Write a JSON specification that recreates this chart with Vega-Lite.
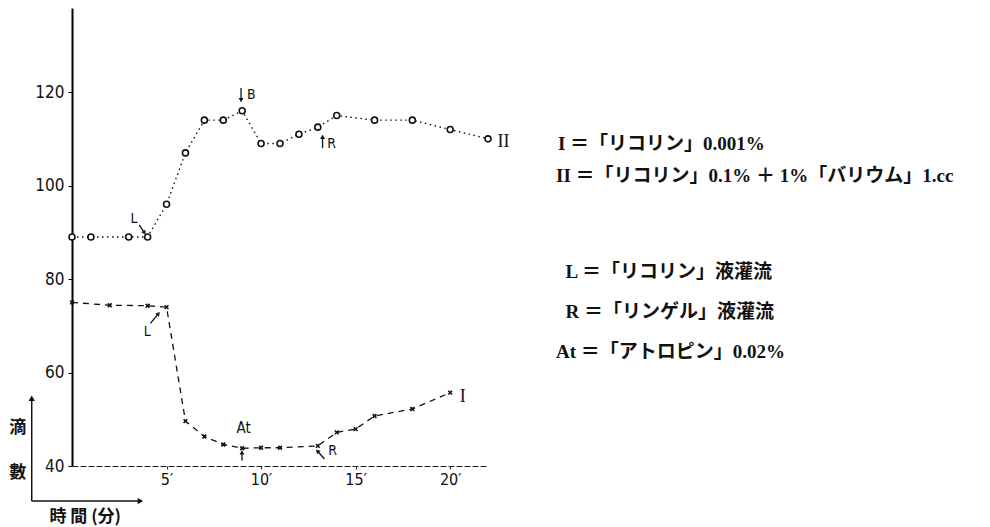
{
  "$schema": "https://vega.github.io/schema/vega-lite/v6.json",
  "autosize": {"type": "none"},
  "width": 416,
  "height": 458,
  "padding": {"left": 72, "top": 8, "right": 502, "bottom": 61},
  "background": "white",
  "config": {"view": {"stroke": null}},
  "datasets": {
    "series": [
      {"t": 0, "drops": 89, "s": "II"},
      {"t": 1, "drops": 89, "s": "II"},
      {"t": 3, "drops": 89, "s": "II"},
      {"t": 4, "drops": 89, "s": "II"},
      {"t": 5, "drops": 96, "s": "II"},
      {"t": 6, "drops": 107, "s": "II"},
      {"t": 7, "drops": 114, "s": "II"},
      {"t": 8, "drops": 114, "s": "II"},
      {"t": 9, "drops": 116, "s": "II"},
      {"t": 10, "drops": 109, "s": "II"},
      {"t": 11, "drops": 109, "s": "II"},
      {"t": 12, "drops": 111, "s": "II"},
      {"t": 13, "drops": 112.5, "s": "II"},
      {"t": 14, "drops": 115, "s": "II"},
      {"t": 16, "drops": 114, "s": "II"},
      {"t": 18, "drops": 114, "s": "II"},
      {"t": 20, "drops": 112, "s": "II"},
      {"t": 22, "drops": 110, "s": "II"},
      {"t": 0, "drops": 75, "s": "I"},
      {"t": 2, "drops": 74.4, "s": "I"},
      {"t": 4, "drops": 74.3, "s": "I"},
      {"t": 5, "drops": 74, "s": "I"},
      {"t": 6, "drops": 49.6, "s": "I"},
      {"t": 7, "drops": 46.3, "s": "I"},
      {"t": 8, "drops": 44.6, "s": "I"},
      {"t": 9, "drops": 43.8, "s": "I"},
      {"t": 10, "drops": 43.9, "s": "I"},
      {"t": 11, "drops": 43.9, "s": "I"},
      {"t": 13, "drops": 44.3, "s": "I"},
      {"t": 14, "drops": 47.2, "s": "I"},
      {"t": 15, "drops": 47.9, "s": "I"},
      {"t": 16, "drops": 50.7, "s": "I"},
      {"t": 18, "drops": 52.2, "s": "I"},
      {"t": 20, "drops": 55.7, "s": "I"}
    ],
    "notes": [
      {"t": 9.26, "drops": 119.3, "label": "B", "size": 14},
      {"t": 13.5, "drops": 109.0, "label": "R", "size": 14},
      {"t": 3.1, "drops": 92.8, "label": "L", "size": 14},
      {"t": 3.8, "drops": 68.7, "label": "L", "size": 14},
      {"t": 8.7, "drops": 48.2, "label": "At", "size": 15},
      {"t": 13.55, "drops": 43.3, "label": "R", "size": 14}
    ],
    "arrows": [
      {"t": 8.94, "drops": 120.9, "t2": 8.94, "drops2": 118.3, "angle": 180},
      {"t": 13.25, "drops": 108.0, "t2": 13.25, "drops2": 110.4, "angle": 0},
      {"t": 3.56, "drops": 91.6, "t2": 3.83, "drops2": 89.9, "angle": 148},
      {"t": 4.15, "drops": 70.5, "t2": 4.57, "drops2": 72.6, "angle": 39},
      {"t": 8.99, "drops": 41.2, "t2": 8.99, "drops2": 42.9, "angle": 0},
      {"t": 13.35, "drops": 41.5, "t2": 12.98, "drops2": 43.2, "angle": -41}
    ],
    "serieslabels": [
      {"t": 20.5, "drops": 54.8, "label": "I"},
      {"t": 22.5, "drops": 109.4, "label": "II"}
    ],
    "legend": [
      {"t": 25.7, "drops": 109.0, "label": "I ＝「リコリン」0.001%"},
      {"t": 25.6, "drops": 102.0, "label": "II ＝「リコリン」0.1% ＋ 1%「バリウム」1.cc"},
      {"t": 26.1, "drops": 81.5, "label": "L ＝「リコリン」液灌流"},
      {"t": 26.1, "drops": 72.9, "label": "R ＝「リンゲル」液灌流"},
      {"t": 25.6, "drops": 64.4, "label": "At ＝「アトロピン」0.02%"}
    ],
    "axisarrows": [
      {"t": -2.13, "drops": 32.5, "t2": -2.13, "drops2": 54.5},
      {"t": -2.13, "drops": 32.5, "t2": 3.62, "drops2": 32.5}
    ],
    "arrowheads": [
      {"t": -2.13, "drops": 54.5, "shape": "triangle-up"},
      {"t": 3.62, "drops": 32.5, "shape": "triangle-right"}
    ],
    "axisnames": [
      {"t": -2.87, "drops": 48.1, "label": "滴"},
      {"t": -2.87, "drops": 38.5, "label": "數"},
      {"t": 0.7, "drops": 29.1, "label": "時 間 (分)"}
    ]
  },
  "encoding": {
    "x": {"field": "t", "type": "quantitative",
      "scale": {"domain": [0, 22], "nice": false, "zero": false},
      "axis": {"values": [5, 10, 15, 20], "labelExpr": "datum.value + '′'", "title": null, "grid": false,
        "domainColor": "#222", "domainWidth": 1.2, "domainDash": [6, 2], "tickColor": "#222", "tickSize": 3,
        "labelFont": "DejaVu Sans Condensed", "labelFontSize": 16, "labelColor": "#111", "labelPadding": 2}},
    "y": {"field": "drops", "type": "quantitative",
      "scale": {"domain": [40, 138], "nice": false, "zero": false},
      "axis": {"values": [40, 60, 80, 100, 120], "title": null, "grid": false,
        "domainColor": "#000", "domainWidth": 2, "tickColor": "#000", "tickSize": 4,
        "labelFont": "DejaVu Sans Condensed", "labelFontSize": 17, "labelColor": "#111", "labelPadding": 4}}
  },
  "layer": [
    {
      "data": {"name": "series"},
      "transform": [{"filter": "datum.s === 'II'"}],
      "mark": {"type": "line", "color": "#111", "strokeWidth": 1.4, "strokeDash": [1.5, 3.5]}
    },
    {
      "data": {"name": "series"},
      "transform": [{"filter": "datum.s === 'I'"}],
      "mark": {"type": "line", "color": "#111", "strokeWidth": 1.3, "strokeDash": [6, 5]}
    },
    {
      "data": {"name": "series"},
      "transform": [{"filter": "datum.s === 'II'"}],
      "mark": {"type": "point", "shape": "circle", "size": 36, "filled": true, "fill": "white", "stroke": "#111", "strokeWidth": 1.6, "opacity": 1}
    },
    {
      "data": {"name": "series"},
      "transform": [{"filter": "datum.s === 'I'"}],
      "mark": {"type": "point", "shape": "M-1,-1L1,1M1,-1L-1,1", "size": 14, "stroke": "#111", "strokeWidth": 1.6, "filled": false, "opacity": 1}
    },
    {
      "data": {"name": "notes"},
      "mark": {"type": "text", "align": "left", "baseline": "middle", "font": "DejaVu Sans Condensed", "color": "#111"},
      "encoding": {"text": {"field": "label"}, "size": {"field": "size", "type": "quantitative", "scale": null}}
    },
    {
      "data": {"name": "arrows"},
      "mark": {"type": "rule", "color": "#111", "strokeWidth": 1.3},
      "encoding": {"x2": {"field": "t2"}, "y2": {"field": "drops2"}}
    },
    {
      "data": {"name": "arrows"},
      "mark": {"type": "point", "shape": "triangle-up", "filled": true, "color": "#111", "size": 24, "opacity": 1},
      "encoding": {"x": {"field": "t2", "type": "quantitative"}, "y": {"field": "drops2", "type": "quantitative"}, "angle": {"field": "angle", "type": "quantitative", "scale": null}}
    },
    {
      "data": {"name": "serieslabels"},
      "mark": {"type": "text", "align": "left", "baseline": "middle", "font": "Liberation Serif", "fontSize": 18, "color": "#111"},
      "encoding": {"text": {"field": "label"}}
    },
    {
      "data": {"name": "legend"},
      "mark": {"type": "text", "align": "left", "baseline": "middle", "font": "Liberation Serif, Noto Sans CJK JP", "fontSize": 19, "fontWeight": "bold", "color": "#111"},
      "encoding": {"text": {"field": "label"}}
    },
    {
      "data": {"name": "axisarrows"},
      "mark": {"type": "rule", "color": "#111", "strokeWidth": 1.5},
      "encoding": {"x2": {"field": "t2"}, "y2": {"field": "drops2"}}
    },
    {
      "data": {"name": "arrowheads"},
      "mark": {"type": "point", "filled": true, "color": "#111", "size": 40, "opacity": 1},
      "encoding": {"shape": {"field": "shape", "type": "nominal", "scale": null}}
    },
    {
      "data": {"name": "axisnames"},
      "mark": {"type": "text", "align": "center", "baseline": "middle", "font": "Noto Sans CJK JP", "fontSize": 17, "fontWeight": "bold", "color": "#111"},
      "encoding": {"text": {"field": "label"}}
    }
  ]
}
